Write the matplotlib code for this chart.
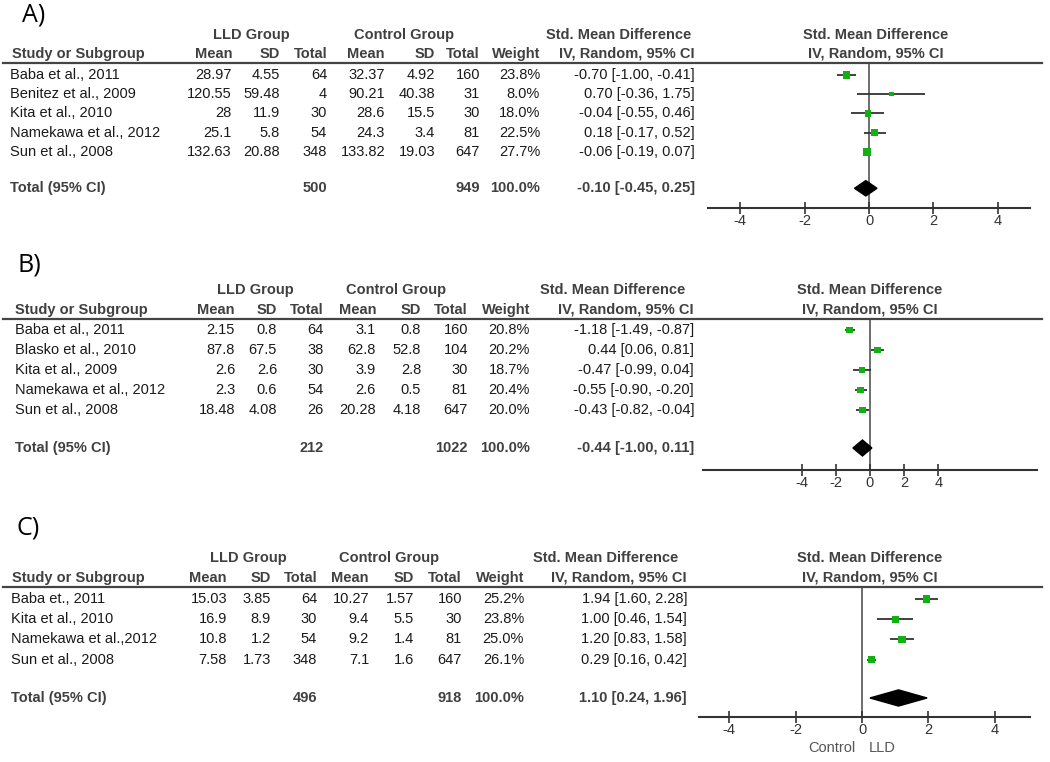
"""Three-panel forest plot (LLD vs control, standardised mean differences)."""

import matplotlib
matplotlib.use("Agg")
import matplotlib.pyplot as plt
from matplotlib.lines import Line2D
from matplotlib.patches import Polygon
from matplotlib.transforms import blended_transform_factory

plt.rcParams["font.family"] = ["Liberation Sans", "DejaVu Sans"]
plt.rcParams["axes.unicode_minus"] = False

# -- Panel A data --
studies_a = ["Baba et al., 2011", "Benitez et al., 2009", "Kita et al., 2010",
             "Namekawa et al., 2012", "Sun et al., 2008"]
lld_mean_a = ["28.97", "120.55", "28", "25.1", "132.63"]
lld_sd_a = ["4.55", "59.48", "11.9", "5.8", "20.88"]
lld_n_a = [64, 4, 30, 54, 348]
ctl_mean_a = ["32.37", "90.21", "28.6", "24.3", "133.82"]
ctl_sd_a = ["4.92", "40.38", "15.5", "3.4", "19.03"]
ctl_n_a = [160, 31, 30, 81, 647]
weight_a = [23.8, 8.0, 18.0, 22.5, 27.7]
smd_a = [-0.70, 0.70, -0.04, 0.18, -0.06]
lo_a = [-1.00, -0.36, -0.55, -0.17, -0.19]
hi_a = [-0.41, 1.75, 0.46, 0.52, 0.07]
total_a = (500, 949, -0.10, -0.45, 0.25)

# -- Panel B data --
studies_b = ["Baba et al., 2011", "Blasko et al., 2010", "Kita et al., 2009",
             "Namekawa et al., 2012", "Sun et al., 2008"]
lld_mean_b = ["2.15", "87.8", "2.6", "2.3", "18.48"]
lld_sd_b = ["0.8", "67.5", "2.6", "0.6", "4.08"]
lld_n_b = [64, 38, 30, 54, 26]
ctl_mean_b = ["3.1", "62.8", "3.9", "2.6", "20.28"]
ctl_sd_b = ["0.8", "52.8", "2.8", "0.5", "4.18"]
ctl_n_b = [160, 104, 30, 81, 647]
weight_b = [20.8, 20.2, 18.7, 20.4, 20.0]
smd_b = [-1.18, 0.44, -0.47, -0.55, -0.43]
lo_b = [-1.49, 0.06, -0.99, -0.90, -0.82]
hi_b = [-0.87, 0.81, 0.04, -0.20, -0.04]
total_b = (212, 1022, -0.44, -1.00, 0.11)

# -- Panel C data --
studies_c = ["Baba et., 2011", "Kita et al., 2010", "Namekawa et al.,2012",
             "Sun et al., 2008"]
lld_mean_c = ["15.03", "16.9", "10.8", "7.58"]
lld_sd_c = ["3.85", "8.9", "1.2", "1.73"]
lld_n_c = [64, 30, 54, 348]
ctl_mean_c = ["10.27", "9.4", "9.2", "7.1"]
ctl_sd_c = ["1.57", "5.5", "1.4", "1.6"]
ctl_n_c = [160, 30, 81, 647]
weight_c = [25.2, 23.8, 25.0, 26.1]
smd_c = [1.94, 1.00, 1.20, 0.29]
lo_c = [1.60, 0.46, 0.83, 0.16]
hi_c = [2.28, 1.54, 1.58, 0.42]
total_c = (496, 918, 1.10, 0.24, 1.96)

xticks = [-4, -2, 0, 2, 4]

W, H = 1050, 762
GREEN = "#12b012"
TXT = "#1a1a1a"
HEAD = "#404040"
FS = 10.5

fig = plt.figure(figsize=(W / 100, H / 100), dpi=100)


def fx(px):
    return px / W


def fy(py):
    return 1 - py / H


def draw_panel(label, studies, cols, weights, smd, lo, hi, total, lay):
    n = len(studies)
    rows = list(range(n))
    total_row = n + 0.9

    # forest axes, placed in pixels
    left, right = lay["ax_x"]
    top, bottom = lay["line_y"], lay["axis_y"]
    ax = fig.add_axes([fx(left), fy(bottom), (right - left) / W, (bottom - top) / H])
    ax.patch.set_visible(False)
    ax.set_xlim(*lay["xlim"])
    ax.set_ylim((bottom - lay["row0"]) / lay["step"], (top - lay["row0"]) / lay["step"])
    for side in ("top", "left", "right"):
        ax.spines[side].set_visible(False)
    ax.spines["bottom"].set_color("#333333")
    ax.spines["bottom"].set_linewidth(1.5)
    ax.set_yticks([])
    ax.set_xticks(xticks)
    ax.set_xticklabels([str(t) for t in xticks])
    ax.tick_params(axis="x", direction="inout", length=9, width=1.2,
                   colors="#333333", labelsize=FS, pad=0)
    ax.axvline(0, color="#555555", lw=1.2, zorder=1)

    ax.hlines(rows, lo, hi, color="#333333", lw=1.3, zorder=2)
    sizes = [(1.5 * w ** 0.5 * 0.72) ** 2 for w in weights]
    ax.scatter(smd, rows, s=sizes, marker="s", color=GREEN, linewidths=0, zorder=3)
    _, _, t_smd, t_lo, t_hi = total
    ax.add_patch(Polygon([(t_lo, total_row), (t_smd, total_row - 0.4),
                          (t_hi, total_row), (t_smd, total_row + 0.4)],
                         closed=True, color="black", zorder=3))

    # headers
    fig.text(fx(lay["label_x"]), fy(lay["label_y"]), label, fontsize=18,
             family="Open Sans", ha="left", va="center", color="black")
    hkw = dict(fontsize=FS, fontweight="bold", color=HEAD, va="center")
    gy, hy = lay["group_y"], lay["head_y"]
    fig.text(fx(lay["lld_cx"]), fy(gy), "LLD Group", ha="center", **hkw)
    fig.text(fx(lay["ctl_cx"]), fy(gy), "Control Group", ha="center", **hkw)
    fig.text(fx(lay["smd_cx"]), fy(gy), "Std. Mean Difference", ha="center", **hkw)
    fig.text(fx(lay["forest_cx"]), fy(gy), "Std. Mean Difference", ha="center", **hkw)
    fig.text(fx(lay["study_x"]), fy(hy), "Study or Subgroup", ha="left", **hkw)
    for name, x in zip(["Mean", "SD", "Total", "Mean", "SD", "Total", "Weight"], lay["col_x"]):
        fig.text(fx(x), fy(hy), name, ha="right", **hkw)
    fig.text(fx(lay["ci_x"]), fy(hy), "IV, Random, 95% CI", ha="right", **hkw)
    fig.text(fx(lay["forest_cx"]), fy(hy), "IV, Random, 95% CI", ha="center", **hkw)
    fig.add_artist(Line2D([fx(3), fx(1042)], [fy(lay["line_y"])] * 2,
                          color="#444444", lw=1.6))

    # table body, rows share the forest axes' y scale
    tr = blended_transform_factory(fig.transFigure, ax.transData)
    bkw = dict(fontsize=FS, color=TXT, va="center", transform=tr)
    for i in rows:
        ax.text(fx(lay["row_x"]), i, studies[i], ha="left", **bkw)
        for col, x in zip(cols, lay["col_x"][:6]):
            ax.text(fx(x), i, str(col[i]), ha="right", **bkw)
        ax.text(fx(lay["col_x"][6]), i, f"{weights[i]:.1f}%", ha="right", **bkw)
        ax.text(fx(lay["ci_x"]), i, f"{smd[i]:.2f} [{lo[i]:.2f}, {hi[i]:.2f}]",
                ha="right", **bkw)

    tkw = dict(fontsize=FS, fontweight="bold", color=HEAD, va="center", transform=tr)
    t_lld, t_ctl = total[0], total[1]
    ax.text(fx(lay["row_x"]), total_row, "Total (95% CI)", ha="left", **tkw)
    ax.text(fx(lay["col_x"][2]), total_row, str(t_lld), ha="right", **tkw)
    ax.text(fx(lay["col_x"][5]), total_row, str(t_ctl), ha="right", **tkw)
    ax.text(fx(lay["col_x"][6]), total_row, "100.0%", ha="right", **tkw)
    ax.text(fx(lay["ci_x"]), total_row, f"{t_smd:.2f} [{t_lo:.2f}, {t_hi:.2f}]",
            ha="right", **tkw)
    return ax


layout_a = dict(label_x=22, label_y=15, group_y=35, head_y=54, line_y=63,
                row0=75, step=19.2, axis_y=208, ax_x=(708, 1030), xlim=(-5, 5),
                col_x=[232, 280, 327, 385, 435, 480, 540], ci_x=695,
                lld_cx=251, ctl_cx=404, smd_cx=619, forest_cx=876,
                study_x=12, row_x=10)
layout_b = dict(label_x=17, label_y=265, group_y=290, head_y=310, line_y=319,
                row0=330, step=20, axis_y=470, ax_x=(703, 1037), xlim=(-9.77, 9.77),
                col_x=[235, 277, 324, 376, 421, 468, 530], ci_x=694,
                lld_cx=255, ctl_cx=396, smd_cx=613, forest_cx=870,
                study_x=15, row_x=15)
layout_c = dict(label_x=17, label_y=528, group_y=558, head_y=578, line_y=587,
                row0=599, step=20.2, axis_y=717, ax_x=(699, 1030), xlim=(-4.91, 5.06),
                col_x=[227, 271, 317, 369, 414, 462, 524], ci_x=687,
                lld_cx=248, ctl_cx=389, smd_cx=606, forest_cx=870,
                study_x=12, row_x=11)

draw_panel("A)", studies_a, [lld_mean_a, lld_sd_a, lld_n_a, ctl_mean_a, ctl_sd_a, ctl_n_a],
           weight_a, smd_a, lo_a, hi_a, total_a, layout_a)
draw_panel("B)", studies_b, [lld_mean_b, lld_sd_b, lld_n_b, ctl_mean_b, ctl_sd_b, ctl_n_b],
           weight_b, smd_b, lo_b, hi_b, total_b, layout_b)
draw_panel("C)", studies_c, [lld_mean_c, lld_sd_c, lld_n_c, ctl_mean_c, ctl_sd_c, ctl_n_c],
           weight_c, smd_c, lo_c, hi_c, total_c, layout_c)

fig.text(fx(832), fy(748), "Control", ha="center", va="center", fontsize=FS, color="#555555")
fig.text(fx(882), fy(748), "LLD", ha="center", va="center", fontsize=FS, color="#555555")

fig.savefig("out.png", dpi=100)
